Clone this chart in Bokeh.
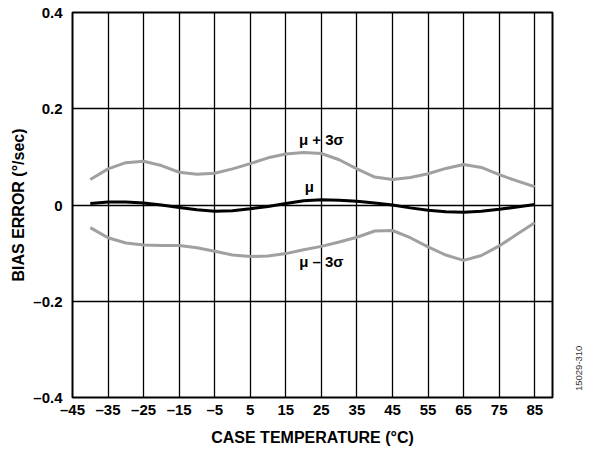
from bokeh.plotting import figure
from bokeh.models import FixedTicker, Label, Range1d
from bokeh.layouts import row
from bokeh.embed import file_html
from bokeh.resources import INLINE
import math

temps = [-40, -35, -30, -25, -20, -15, -10, -5, 0, 5, 10, 15, 20, 25, 30, 35, 40, 45, 50, 55, 60, 65, 70, 75, 80, 85]
upper = [0.053, 0.075, 0.088, 0.091, 0.082, 0.068, 0.064, 0.066, 0.075, 0.086, 0.098, 0.106, 0.109, 0.107, 0.094, 0.075,
         0.058, 0.053, 0.057, 0.065, 0.076, 0.084, 0.078, 0.063, 0.050, 0.038]
mean = [0.003, 0.006, 0.006, 0.004, 0.000, -0.005, -0.010, -0.013, -0.012, -0.008, -0.003, 0.003, 0.009, 0.011, 0.010, 0.008,
        0.004, 0.000, -0.006, -0.011, -0.014, -0.015, -0.013, -0.009, -0.004, 0.001]
lower = [-0.047, -0.068, -0.079, -0.083, -0.084, -0.084, -0.089, -0.096, -0.104, -0.107, -0.106, -0.101, -0.093, -0.086,
         -0.077, -0.067, -0.054, -0.053, -0.068, -0.087, -0.104, -0.115, -0.105, -0.085, -0.061, -0.037]

x_ticks = [-45, -35, -25, -15, -5, 5, 15, 25, 35, 45, 55, 65, 75, 85]
y_ticks = [-0.4, -0.2, 0, 0.2, 0.4]
y_tick_labels = {-0.4: "\u20130.4", -0.2: "\u20130.2", 0: "0", 0.2: "0.2", 0.4: "0.4"}
curve_labels = ["\u03bc + 3\u03c3", "\u03bc", "\u03bc \u2013 3\u03c3"]
label_x = [25, 21.6, 25]
label_y = [0.136, 0.038, -0.117]
x_title = "CASE TEMPERATURE (\u00b0C)"
y_title = "BIAS ERROR (\u00b0/sec)"
fig_id = "15029-310"

FONT = "Liberation Sans"

p = figure(width=559, height=455, output_backend="svg", toolbar_location=None,
           x_range=Range1d(-45, 90), y_range=Range1d(-0.4, 0.4),
           min_border_left=72, min_border_top=12, min_border_right=7, min_border_bottom=58)

p.outline_line_color = "black"
p.outline_line_width = 2

for ax in (p.xaxis[0], p.yaxis[0]):
    ax.axis_line_color = None
    ax.major_tick_line_color = None
    ax.minor_tick_line_color = None
    ax.major_tick_out = 0
    ax.major_tick_in = 0
    ax.minor_tick_out = 0
    ax.minor_tick_in = 0
    ax.major_label_text_font = FONT
    ax.major_label_text_font_style = "bold"
    ax.major_label_text_font_size = "15px"
    ax.major_label_text_color = "black"
    ax.axis_label_text_font = FONT
    ax.axis_label_text_font_style = "bold"
    ax.axis_label_text_font_size = "16px"
    ax.axis_label_text_color = "black"

p.xaxis.ticker = FixedTicker(ticks=x_ticks)
p.xaxis.major_label_overrides = {t: (str(t) if t >= 0 else "\u2013" + str(-t)) for t in x_ticks}
p.xaxis.major_label_standoff = 3
p.xaxis.axis_label = x_title
p.xaxis.axis_label_standoff = 8

p.yaxis.ticker = FixedTicker(ticks=y_ticks)
p.yaxis.major_label_overrides = y_tick_labels
p.yaxis.major_label_standoff = 10
p.yaxis.axis_label = y_title
p.yaxis.axis_label_standoff = 3

p.xgrid.ticker = FixedTicker(ticks=x_ticks)
p.ygrid.ticker = FixedTicker(ticks=y_ticks)
for g in (p.xgrid[0], p.ygrid[0]):
    g.grid_line_color = "black"
    g.grid_line_width = 1.3
    g.grid_line_alpha = 1

p.line(temps, upper, line_color="#a0a0a0", line_width=3)
p.line(temps, lower, line_color="#a0a0a0", line_width=3)
p.line(temps, mean, line_color="black", line_width=3)

for txt, x, y in zip(curve_labels, label_x, label_y):
    p.add_layout(Label(x=x, y=y, text=txt, text_font=FONT, text_font_style="bold", text_font_size="15px",
                       text_align="center", text_baseline="middle", text_color="black"))

# narrow strip on the right carrying the figure number (pixel-like coordinates)
side = figure(width=32, height=455, output_backend="svg", toolbar_location=None,
              x_range=Range1d(0, 32), y_range=Range1d(0, 455),
              x_axis_type=None, y_axis_type=None, min_border=0)
side.outline_line_color = None
side.xgrid.visible = False
side.ygrid.visible = False
side.add_layout(Label(x=19, y=34.5, text=fig_id, angle=math.pi / 2, text_font=FONT,
                      text_font_size="9.5px", text_align="center", text_baseline="middle",
                      text_color="#333333"))

layout = row(p, side)
open("out.html", "w").write(file_html(layout, INLINE))
